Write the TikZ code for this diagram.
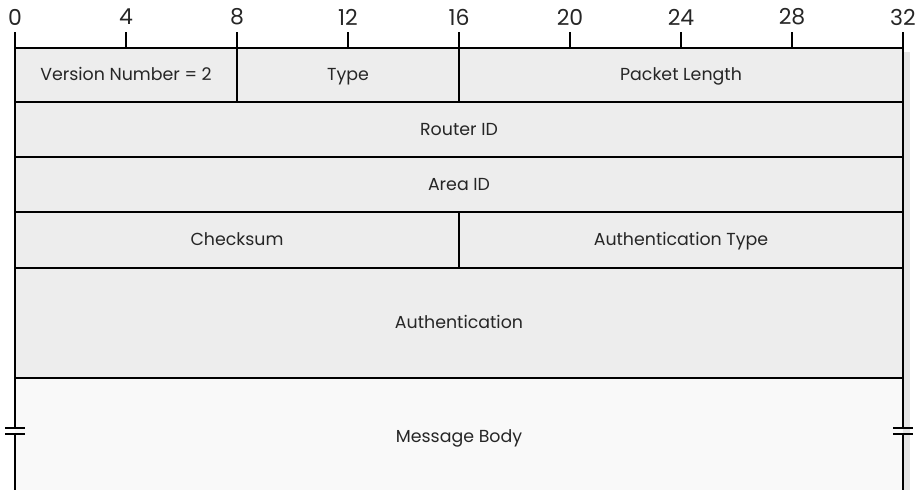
\documentclass[tikz,border=0pt]{standalone}
\usepackage{fontspec}
\setmainfont{Poppins}
\usepackage{tikz}

\begin{document}
\begin{tikzpicture}[x=0.02cm,y=-0.02cm,line width=0.7pt]
  \tikzset{
    field/.style={font=\fontsize{9.9}{12}\selectfont,text=black!85,
      text height=1.6ex,text depth=0.4ex},
    bitnum/.style={font=\fontsize{12.5}{14}\selectfont,text=black!85},
    frame/.style={line width=1.6pt}
  }
  \useasboundingbox (0,0) rectangle (920,490);
  \fill[gray!14] (15,48) rectangle (903,378);
  \fill[gray!5] (15,378) rectangle (903,490);
  \fill[gray!20] (903,52) rectangle (910,490);
  % field lines
  \foreach \y in {102,157,212,268,378}
    \draw (15,\y) -- (903,\y);
  \draw (237,48) -- (237,102);
  \draw (459,48) -- (459,102);
  \draw (459,212) -- (459,268);
  % ruler
  \draw[frame] (15,48) -- (903,48);
  \foreach \b in {0,4,...,32} {
    \draw[frame] (15+27.75*\b,32) -- (15+27.75*\b,48);
    \node[bitnum] (b\b) at (15+27.75*\b,17) {\b};
  }
  % sides with break marks
  \draw[frame] (15,48) -- (15,428) (15,434) -- (15,490);
  \draw[frame] (903,48) -- (903,428) (903,434) -- (903,490);
  \draw[frame] (5,428) -- (25,428) (5,434) -- (25,434);
  \draw[frame] (893,428) -- (913,428) (893,434) -- (913,434);
  % labels
  \node[field] (ver) at (126,75) {Version Number = 2};
  \node[field] (type) at (348,75) {Type};
  \node[field] (len) at (681,75) {Packet Length};
  \node[field] (rid) at (459,130) {Router ID};
  \node[field] (aid) at (459,185) {Area ID};
  \node[field] (cksum) at (237,240) {Checksum};
  \node[field] (autype) at (681,240) {Authentication Type};
  \node[field] (auth) at (459,323) {Authentication};
  \node[field] (body) at (459,437) {Message Body};
\end{tikzpicture}
\end{document}
